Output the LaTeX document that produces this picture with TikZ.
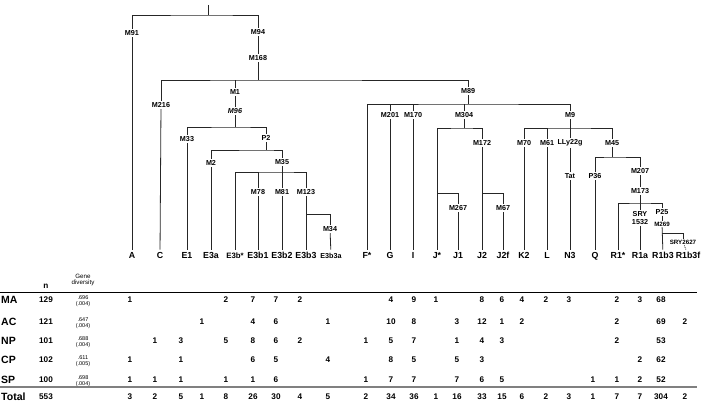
\documentclass[tikz,border=0pt]{standalone}
\usepackage{fontspec}
\setmainfont{Liberation Sans}
\begin{document}
\begin{tikzpicture}[x=1pt,y=-1pt,
  mk/.style={font=\bfseries\fontsize{7.2}{8}\selectfont,inner sep=1.5pt},
  leaf/.style={font=\bfseries\fontsize{8.8}{9}\selectfont,text height=6.4pt,text depth=0pt,inner sep=2pt},
  num/.style={font=\bfseries\fontsize{8.2}{9}\selectfont,inner sep=1pt},
  gd/.style={font=\fontsize{5.5}{6}\selectfont,align=center,inner sep=0pt},
  rowlab/.style={font=\bfseries\fontsize{10.5}{11}\selectfont,anchor=west,inner sep=0pt},
  br/.style={line width=0.8pt,black!85}]
\useasboundingbox (0,0) rectangle (704,403);
\foreach \nm/\x/\t in {A/132/A, C/160/C, E1/187/E1, E3a/211/E3a, E3bs/235/{\fontsize{7.8}{8}\selectfont E3b*}, E3b1/258/E3b1, E3b2/282/E3b2, E3b3/306/E3b3, E3b3a/331/{\fontsize{7.2}{8}\selectfont E3b3a}, Fs/367/F*, G/390/G, I/413/I, Js/437/J*, J1/458/J1, J2/482/J2, J2f/503/J2f, K2/524/K2, L/547/L, N3/570/N3, Q/595/Q, R1s/618/R1*, R1a/640/R1a, R1b3/663/R1b3, R1b3f/688/R1b3f}
  \node[leaf] (l\nm) at (\x,255) {\t};
\coordinate (top) at (208,5);
\coordinate (j0) at (208,15);
\node[mk] (m91) at (132,33) {M91};
\node[mk] (m94) at (258,32) {M94};
\node[mk] (m168) at (258,58) {M168};
\coordinate (j1) at (258,80);
\node[mk] (m216) at (161,105) {M216};
\node[mk] (m1) at (235,92) {M1};
\node[mk] (m96) at (235,111) {\itshape M96};
\coordinate (j2) at (235,127);
\node[mk] (m33) at (187,139) {M33};
\node[mk] (p2) at (266,138) {P2};
\coordinate (j3) at (266,150);
\node[mk] (m2) at (211,163) {M2};
\node[mk] (m35) at (282,162) {M35};
\coordinate (j4) at (282,172);
\node[mk] (m78) at (258,192) {M78};
\node[mk] (m81) at (282,192) {M81};
\node[mk] (m123) at (306,192) {M123};
\coordinate (j5) at (306,214);
\node[mk] (m34) at (330,229) {M34};
\node[mk] (m89) at (468,91) {M89};
\coordinate (j6) at (468,104);
\node[mk] (m201) at (390,115) {M201};
\node[mk] (m170) at (413,115) {M170};
\node[mk] (m304) at (464,115) {M304};
\node[mk] (m9) at (570,115) {M9};
\coordinate (j7) at (464,128);
\node[mk] (m172) at (482,143) {M172};
\coordinate (j11) at (437,193);
\node[mk] (m267) at (458,208) {M267};
\coordinate (j12) at (482,193);
\node[mk] (m67) at (503,208) {M67};
\coordinate (j8) at (570,128);
\node[mk] (m70) at (524,143) {M70};
\node[mk] (m61) at (547,143) {M61};
\node[mk] (lly) at (570,143) {LLy22g};
\node[mk] (m45) at (612,143) {M45};
\node[mk] (tat) at (570,176) {Tat};
\coordinate (j9) at (612,157);
\node[mk] (p36) at (595,176) {P36};
\node[mk] (m207) at (640,171) {M207};
\node[mk] (m173) at (640,191) {M173};
\coordinate (j10) at (640,203);
\node[mk,align=center,inner sep=1pt] (sry) at (640,218) {SRY\\1532};
\node[mk,inner sep=1pt] (p25) at (662,212) {P25};
\node[mk,font=\bfseries\fontsize{6.2}{7}\selectfont,inner sep=1pt] (m269) at (662,224) {M269};
\coordinate (j13) at (662,233);
\node[mk,font=\bfseries\fontsize{6.2}{7}\selectfont,inner sep=1pt] (s2627) at (683,242) {SRY2627};
\begin{scope}[br]
\draw (top) -- (j0);
\draw (m91) |- (j0) -| (m94);
\draw (m94) -- (m168);
\draw (m168) -- (j1);
\draw (m216) |- (j1) -| (m89);
\draw (m1) -- (m1 |- j1);
\draw (m1) -- (m96);
\draw (m96) -- (j2);
\draw (m33) |- (j2) -| (p2);
\draw (p2) -- (j3);
\draw (m2) |- (j3) -| (m35);
\draw (m35) -- (j4);
\draw (lE3bs) |- (j4) -| (m123);
\draw (m78) -- (m78 |- j4);
\draw (m81) -- (j4);
\draw (j5) -| (m34);
\draw (m91) -- (lA);
\draw (m216) -- (lC);
\draw (m33) -- (lE1);
\draw (m2) -- (lE3a);
\draw (m78) -- (lE3b1);
\draw (m81) -- (lE3b2);
\draw (m123) -- (lE3b3);
\draw (m34) -- (lE3b3a);
\draw (m89) -- (j6);
\draw (lFs) |- (j6) -| (m9);
\draw (m201) -- (m201 |- j6);
\draw (m170) -- (m170 |- j6);
\draw (m304) -- (m304 |- j6);
\draw (m201) -- (lG);
\draw (m170) -- (lI);
\draw (m304) -- (j7);
\draw (lJs) |- (j7) -| (m172);
\draw (j11) -| (m267);
\draw (m267) -- (lJ1);
\draw (m172) -- (lJ2);
\draw (j12) -| (m67);
\draw (m67) -- (lJ2f);
\draw (m9) -- (j8);
\draw (m70) |- (j8) -| (m45);
\draw (m61) -- (m61 |- j8);
\draw (lly) -- (j8);
\draw (m70) -- (lK2);
\draw (m61) -- (lL);
\draw (lly) -- (tat);
\draw (tat) -- (lN3);
\draw (m45) -- (j9);
\draw (p36) |- (j9) -| (m207);
\draw (p36) -- (lQ);
\draw (m207) -- (m173);
\draw (m173) -- (j10);
\draw (lR1s) |- (j10) -| (p25);
\draw (sry) -- (j10);
\draw (sry) -- (lR1a);
\draw (p25) -- (m269);
\draw (m269) -- (lR1b3);
\draw (j13) -| (s2627);
\draw[densely dotted] (s2627) -- (lR1b3f);
\end{scope}
\node[num] (nhead) at (46,286) {n};
\node[gd,font=\fontsize{6.2}{6.8}\selectfont] (ghead) at (83,280) {Gene\\diversity};
\draw[line width=0.7pt] (0,292) -- (697,292);
\draw[line width=1.8pt,gray] (0,387) -- (697,387);
\foreach \rw/\y/\n/\gv/\ev in {MA/300/129/.696/.004, AC/322/121/.647/.004, NP/341/101/.688/.004, CP/360/102/.611/.005, SP/380/100/.698/.004}{
  \node[rowlab] (r\rw) at (1,\y) {\rw};
  \node[num] (n\rw) at (46,\y) {\n};
  \node[gd] (g\rw) at (83,\y+1) {\gv\\(\ev)};
}
\node[rowlab] (rTotal) at (1,397) {Total};
\node[num] (nTotal) at (46,397) {553};
\foreach \rw/\y/\vals in {
  MA/300/{130/1,226/2,253/7,276/7,300/2,391/4,414/9,436/1,482/8,502/6,522/4,546/2,569/3,617/2,640/3,661/68},
  AC/322/{202/1,253/4,276/6,328/1,391/10,414/8,457/3,482/12,502/1,522/2,617/2,661/69,685/2},
  NP/341/{155/1,181/3,226/5,253/8,276/6,300/2,366/1,391/5,414/7,457/1,482/4,502/3,617/2,661/53},
  CP/360/{130/1,181/1,253/6,276/5,328/4,391/8,414/5,457/5,482/3,640/2,661/62},
  SP/380/{130/1,155/1,181/1,226/1,253/1,276/6,366/1,391/7,414/7,457/7,482/6,502/5,593/1,617/1,640/2,661/52},
  Total/397/{130/3,155/2,181/5,202/1,226/8,253/26,276/30,300/4,328/5,366/2,391/34,414/36,436/1,457/16,482/33,502/15,522/6,546/2,569/3,593/1,617/7,640/7,661/304,685/2}}
  \foreach \x/\v in \vals
    \node[num] (\rw-\x) at (\x,\y) {\v};
\end{tikzpicture}
\end{document}
